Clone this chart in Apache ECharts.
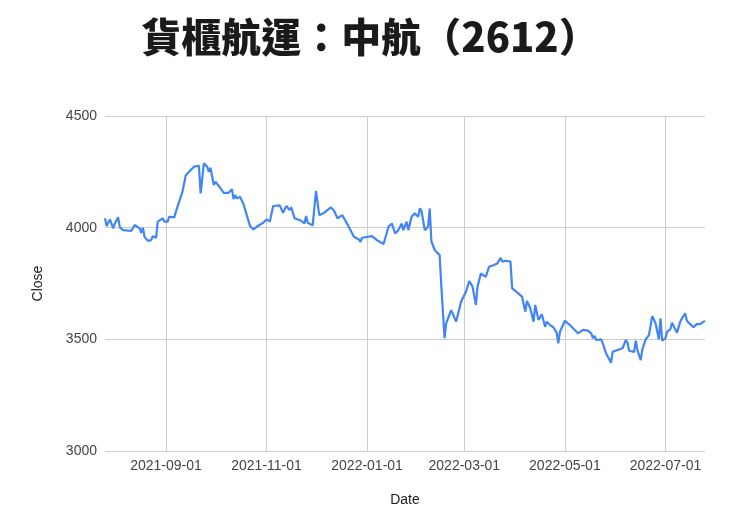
<!DOCTYPE html>
<html>
<head>
<meta charset="utf-8">
<script src="https://cdn.jsdelivr.net/npm/echarts@6/dist/echarts.min.js"></script>
<style>
html,body{margin:0;padding:0;background:#fff;}
#chart{width:740px;height:530px;}
</style>
</head>
<body>
<div id="chart"></div>
<script>
const titleText = '貨櫃航運：中航（2612）';
const xAxisName = 'Date';
const yAxisName = 'Close';
const yTicks = [3000, 3500, 4000, 4500];

const dates = [
'2021-07-26','2021-07-27','2021-07-29','2021-07-31','2021-08-01','2021-08-03','2021-08-04','2021-08-06','2021-08-11','2021-08-13',
'2021-08-16','2021-08-17','2021-08-18','2021-08-19','2021-08-21','2021-08-23','2021-08-24','2021-08-26','2021-08-27','2021-08-30',
'2021-08-31','2021-09-02','2021-09-03','2021-09-06','2021-09-08','2021-09-09','2021-09-11','2021-09-13','2021-09-14','2021-09-16',
'2021-09-18','2021-09-21','2021-09-22','2021-09-24','2021-09-26','2021-09-27','2021-09-28','2021-09-30','2021-10-01','2021-10-03',
'2021-10-06','2021-10-09','2021-10-11','2021-10-12','2021-10-13','2021-10-14','2021-10-16','2021-10-18','2021-10-20','2021-10-22',
'2021-10-24','2021-10-26','2021-10-30','2021-11-01','2021-11-03','2021-11-05','2021-11-09','2021-11-11','2021-11-13','2021-11-15',
'2021-11-16','2021-11-18','2021-11-22','2021-11-24','2021-11-25','2021-11-26','2021-11-29','2021-12-01','2021-12-03','2021-12-06',
'2021-12-10','2021-12-12','2021-12-14','2021-12-17','2021-12-20','2021-12-24','2021-12-27','2021-12-28','2021-12-29','2022-01-04',
'2022-01-07','2022-01-11','2022-01-12','2022-01-14','2022-01-16','2022-01-18','2022-01-20','2022-01-22','2022-01-23','2022-01-25',
'2022-01-26','2022-01-28','2022-01-30','2022-01-31','2022-02-01','2022-02-02','2022-02-03','2022-02-05','2022-02-06','2022-02-07',
'2022-02-08','2022-02-09','2022-02-11','2022-02-14','2022-02-15','2022-02-17','2022-02-18','2022-02-21','2022-02-24','2022-02-27',
'2022-03-02','2022-03-04','2022-03-06','2022-03-08','2022-03-09','2022-03-11','2022-03-14','2022-03-16','2022-03-19','2022-03-21',
'2022-03-23','2022-03-24','2022-03-26','2022-03-29','2022-03-30','2022-04-02','2022-04-05','2022-04-07','2022-04-08','2022-04-10',
'2022-04-12','2022-04-13','2022-04-15','2022-04-17','2022-04-19','2022-04-20','2022-04-22','2022-04-24','2022-04-26','2022-04-27',
'2022-04-28','2022-05-01','2022-05-04','2022-05-07','2022-05-09','2022-05-12','2022-05-15','2022-05-17','2022-05-18','2022-05-19',
'2022-05-20','2022-05-23','2022-05-24','2022-05-26','2022-05-28','2022-05-29','2022-05-30','2022-06-02','2022-06-05','2022-06-07',
'2022-06-08','2022-06-09','2022-06-12','2022-06-13','2022-06-14','2022-06-16','2022-06-17','2022-06-19','2022-06-21','2022-06-23',
'2022-06-25','2022-06-27','2022-06-28','2022-06-29','2022-07-01','2022-07-02','2022-07-04','2022-07-05','2022-07-06','2022-07-08',
'2022-07-10','2022-07-11','2022-07-13','2022-07-14','2022-07-16','2022-07-18','2022-07-20','2022-07-22','2022-07-25'
];

const closes = [
4042,4007,4037,3997,4020,4046,4001,3989,3986,4012,
3997,3977,4000,3959,3941,3944,3962,3955,4027,4042,
4027,4027,4049,4046,4094,4102,4161,4235,4240,4258,
4273,4277,4153,4288,4273,4250,4268,4191,4206,4187,
4156,4156,4172,4128,4146,4131,4138,4106,4056,4007,
3992,4004,4022,4037,4027,4097,4100,4067,4097,4079,
4091,4042,4031,4019,4052,4022,4010,4165,4056,4067,
4091,4076,4042,4056,4016,3959,3947,3937,3955,3962,
3944,3927,3935,4004,4019,3974,3989,4019,3989,4027,
3989,4049,4064,4064,4049,4086,4075,3989,3995,4004,
4086,3940,3900,3877,3743,3505,3572,3631,3579,3668,
3713,3761,3736,3654,3736,3795,3780,3825,3833,3840,
3865,3848,3852,3848,3728,3710,3691,3624,3672,3639,
3579,3654,3587,3612,3556,3579,3564,3554,3530,3482,
3534,3583,3564,3542,3527,3542,3539,3527,3505,3515,
3497,3500,3482,3437,3410,3395,3444,3452,3460,3497,
3485,3449,3444,3494,3452,3407,3455,3500,3519,3604,
3572,3500,3594,3494,3505,3534,3545,3574,3568,3530,
3579,3594,3616,3583,3568,3554,3568,3568,3583
];

const seriesData = dates.map((d, i) => [d, closes[i]]);

const chart = echarts.init(document.getElementById('chart'), null, {renderer: 'canvas'});
const labelFont = '"Liberation Sans", Arial, sans-serif';
chart.setOption({
  animation: false,
  backgroundColor: '#ffffff',
  title: {
    text: titleText,
    left: 'center',
    top: 12,
    textStyle: {
      fontFamily: '"Noto Sans CJK TC", sans-serif',
      fontSize: 40,
      fontWeight: 900,
      color: '#1a1a1a'
    }
  },
  grid: {left: 105, right: 35, top: 116, bottom: 79, containLabel: false},
  xAxis: {
    type: 'time',
    min: '2021-07-26',
    max: '2022-07-25',
    splitNumber: 6,
    name: xAxisName,
    nameLocation: 'middle',
    nameGap: 42,
    nameTextStyle: {fontFamily: labelFont, fontSize: 14, color: '#222'},
    axisLine: {show: false},
    axisTick: {show: false},
    axisLabel: {
      formatter: '{yyyy}-{MM}-{dd}',
      fontFamily: labelFont, fontSize: 14, color: '#444', margin: 8,
      showMinLabel: false, showMaxLabel: false, hideOverlap: false
    },
    splitLine: {show: true, showMinLine: false, showMaxLine: false, lineStyle: {color: '#cccccc', width: 1}}
  },
  yAxis: {
    type: 'value',
    min: yTicks[0],
    max: yTicks[yTicks.length - 1],
    interval: yTicks[1] - yTicks[0],
    name: yAxisName,
    nameLocation: 'middle',
    nameGap: 60,
    nameTextStyle: {fontFamily: labelFont, fontSize: 14, color: '#222'},
    axisLine: {show: false},
    axisTick: {show: false},
    axisLabel: {
      fontFamily: labelFont, fontSize: 14, color: '#444', margin: 8,
      formatter: function (v) { return String(v); }
    },
    splitLine: {show: true, lineStyle: {color: '#cccccc', width: 1}}
  },
  series: [{
    type: 'line',
    data: seriesData,
    showSymbol: false,
    symbol: 'none',
    lineStyle: {color: '#4285f4', width: 2.2},
    itemStyle: {color: '#4285f4'}
  }]
});
</script>
</body>
</html>
